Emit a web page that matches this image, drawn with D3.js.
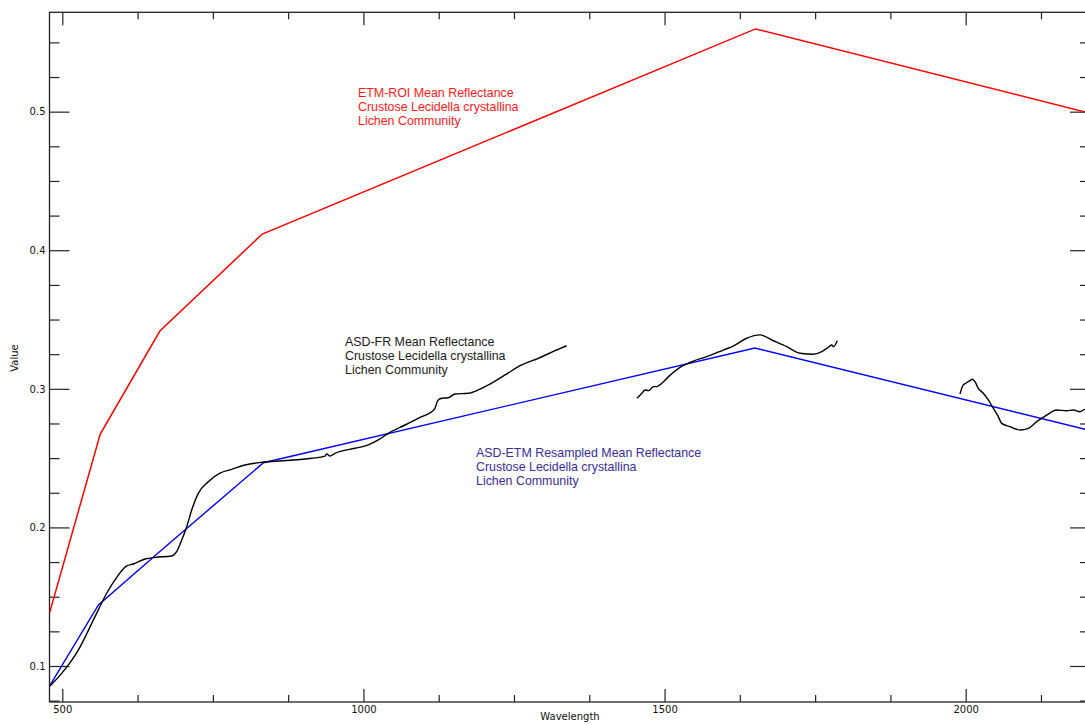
<!DOCTYPE html>
<html>
<head>
<meta charset="utf-8">
<script src="https://cdn.jsdelivr.net/npm/d3@7"></script>
<style>
  html, body { margin: 0; padding: 0; background: #fff; }
  svg { display: block; }
  .tick text { font-family: "DejaVu Sans", sans-serif; font-size: 10px; fill: #111; }
</style>
</head>
<body>
<svg id="chart" width="1085" height="725"></svg>
<script>
// ---- Data (wavelength nm, reflectance) ----
const etmRoiWavelength = [479, 563, 662, 832, 1651, 2206];
const etmRoiValue      = [0.1385, 0.2674, 0.3417, 0.4117, 0.5597, 0.4989];

const asdEtmWavelength = [479, 560, 661, 834, 1650, 2206];
const asdEtmValue      = [0.0856, 0.1441, 0.1823, 0.2467, 0.3295, 0.2700];

// ASD-FR spectrum, split into segments (water-absorption gaps removed)
const asdFrSeg1 = [
  [479.6,0.0856],[499,0.0947],[526.6,0.1115],[554.3,0.1356],[573.7,0.1525],[587.5,0.1621],
  [606.9,0.1722],[617.9,0.1736],[637.3,0.1772],[653.9,0.1784],[681.6,0.1794],[689.9,0.1825],
  [698.3,0.1909],[706.6,0.2005],[714.9,0.2126],[725.8,0.2246],[742.4,0.2330],[761.8,0.2391],
  [781.3,0.2419],[803.4,0.2450],[831.1,0.2470],[866.9,0.2481],[914.1,0.2499],[936.2,0.2515],
  [939.0,0.2530],[944.5,0.2515],[952.8,0.2535],[986.0,0.2571],[1008.1,0.2595],[1024.7,0.2631],
  [1041.3,0.2679],[1069.0,0.2739],[1096.7,0.2799],[1113.3,0.2835],[1118.8,0.2860],[1123.3,0.2915],
  [1130.0,0.2932],[1140.9,0.2936],[1152.1,0.2963],[1174.1,0.2968],[1190.7,0.2992],[1207.3,0.3028],
  [1235.1,0.3100],[1262.8,0.3172],[1290.3,0.3220],[1318.1,0.3275],[1337.5,0.3311]
];
const asdFrSeg2 = [
  [1454.1,0.2932],[1462.4,0.2968],[1467.7,0.2992],[1473.4,0.2987],[1481.7,0.3016],[1487.2,0.3016],
  [1495.5,0.3040],[1506.5,0.3088],[1523.2,0.3148],[1545.3,0.3196],[1569.9,0.3232],[1597.5,0.3280],
  [1614.1,0.3309],[1636.4,0.3365],[1658.5,0.3389],[1680.6,0.3347],[1702.8,0.3304],[1724.9,0.3257],
  [1747.0,0.3249],[1760.9,0.3268],[1771.9,0.3300],[1777.6,0.3316],[1780.2,0.3304],[1786.8,0.3347]
];
const asdFrSeg3 = [
  [1990.5,0.2963],[1996.0,0.3028],[2001.6,0.3044],[2007.1,0.3059],[2010.9,0.3069],[2015.4,0.3052],
  [2020.9,0.3004],[2029.2,0.2968],[2037.5,0.2920],[2045.8,0.2860],[2054.1,0.2799],[2059.8,0.2751],
  [2073.5,0.2727],[2090.2,0.2703],[2104.0,0.2715],[2117.9,0.2763],[2134.5,0.2811],[2151.1,0.2847],
  [2167.7,0.2842],[2178.7,0.2847],[2189.8,0.2835],[2198.1,0.2852],[2206.4,0.2847]
];

const xMajorTicks = [500, 1000, 1500, 2000];
const xMinorTicks = [625, 750, 875, 1125, 1250, 1375, 1625, 1750, 1875, 2125];
const yMajorTicks = [0.1, 0.2, 0.3, 0.4, 0.5];
const yMinorTicks = [0.075, 0.125, 0.15, 0.175, 0.225, 0.25, 0.275, 0.325, 0.35, 0.375,
                     0.425, 0.45, 0.475, 0.525, 0.55];

const etmRoiLabel = ["ETM-ROI Mean Reflectance", "Crustose Lecidella crystallina", "Lichen Community"];
const asdFrLabel  = ["ASD-FR Mean Reflectance", "Crustose Lecidella crystallina", "Lichen Community"];
const asdEtmLabel = ["ASD-ETM Resampled Mean Reflectance", "Crustose Lecidella crystallina", "Lichen Community"];

// ---- Layout ----
const pL = 49.5, pR = 1090, pT = 12.3, pB = 702;
const x = d3.scaleLinear().domain([478.75, 2206.4]).range([pL, pR]);
const y = d3.scaleLinear().domain([0.07402, 0.5717]).range([pB, pT]);

const svg = d3.select("#chart");

svg.append("defs").append("clipPath").attr("id", "clip")
  .append("rect").attr("x", pL).attr("y", pT)
  .attr("width", pR - pL).attr("height", pB - pT);

const axisColor = "#222";

// Bottom axis
const gB = svg.append("g").attr("transform", `translate(0,${pB})`);
gB.call(d3.axisBottom(x).tickValues(xMajorTicks).tickSizeInner(-13).tickSizeOuter(0)
  .tickPadding(3.5).tickFormat(d3.format("d")));
gB.append("g").call(d3.axisBottom(x).tickValues(xMinorTicks).tickSizeInner(-7).tickSizeOuter(0).tickFormat(""));
// Top axis
const gT = svg.append("g").attr("transform", `translate(0,${pT})`);
gT.call(d3.axisTop(x).tickValues(xMajorTicks).tickSizeInner(-13).tickSizeOuter(0).tickFormat(""));
gT.append("g").call(d3.axisTop(x).tickValues(xMinorTicks).tickSizeInner(-7).tickSizeOuter(0).tickFormat(""));
// Left axis
const gL = svg.append("g").attr("transform", `translate(${pL},0)`);
gL.call(d3.axisLeft(y).tickValues(yMajorTicks).tickSizeInner(-20).tickSizeOuter(0)
  .tickPadding(4).tickFormat(d3.format(".1f")));
gL.append("g").call(d3.axisLeft(y).tickValues(yMinorTicks).tickSizeInner(-10).tickSizeOuter(0).tickFormat(""));
// Right axis
const gR = svg.append("g").attr("transform", `translate(${pR},0)`);
gR.call(d3.axisRight(y).tickValues(yMajorTicks).tickSizeInner(-20).tickSizeOuter(0).tickFormat(""));
gR.append("g").call(d3.axisRight(y).tickValues(yMinorTicks).tickSizeInner(-10).tickSizeOuter(0).tickFormat(""));

svg.selectAll(".domain").remove();
svg.selectAll(".tick line").attr("stroke", axisColor).attr("stroke-width", 1.2);

// Frame
svg.append("rect").attr("x", pL).attr("y", pT)
  .attr("width", pR - pL).attr("height", pB - pT)
  .attr("fill", "none").attr("stroke", axisColor).attr("stroke-width", 1.3);

// Axis titles
svg.append("text").attr("x", 570).attr("y", 720).attr("text-anchor", "middle")
  .attr("font-family", "DejaVu Sans, sans-serif").attr("font-size", 10).attr("fill", "#111")
  .text("Wavelength");
svg.append("text").attr("transform", "translate(18,358) rotate(-90)").attr("text-anchor", "middle")
  .attr("font-family", "DejaVu Sans, sans-serif").attr("font-size", 10).attr("fill", "#111")
  .text("Value");

// Lines
const line = d3.line().x(d => x(d[0])).y(d => y(d[1]));
const plot = svg.append("g").attr("clip-path", "url(#clip)");

const zip = (a, b) => a.map((v, i) => [v, b[i]]);

plot.append("path").datum(zip(etmRoiWavelength, etmRoiValue))
  .attr("d", line).attr("fill", "none").attr("stroke", "#ff0000").attr("stroke-width", 1.5);
plot.append("path").datum(zip(asdEtmWavelength, asdEtmValue))
  .attr("d", line).attr("fill", "none").attr("stroke", "#0000ff").attr("stroke-width", 1.4);
const curveLine = d3.line().x(d => x(d[0])).y(d => y(d[1])).curve(d3.curveMonotoneX);
[asdFrSeg1, asdFrSeg2, asdFrSeg3].forEach(seg => {
  plot.append("path").datum(seg)
    .attr("d", curveLine).attr("fill", "none")
    .attr("stroke", "#000").attr("stroke-width", 1.4);
});

// Annotations
function label(lines, x0, y0, color) {
  const t = svg.append("text").attr("x", x0).attr("y", y0)
    .attr("font-family", "Liberation Sans, Arial, sans-serif").attr("font-size", 12.4)
    .attr("fill", color);
  lines.forEach((s, i) => t.append("tspan").attr("x", x0).attr("y", y0 + i * 13.8).text(s));
}
label(etmRoiLabel, 358, 97, "#ff1a1a");
label(asdFrLabel, 345, 346, "#1a1a1a");
label(asdEtmLabel, 476, 457, "#3a2d9c");
</script>
</body>
</html>
